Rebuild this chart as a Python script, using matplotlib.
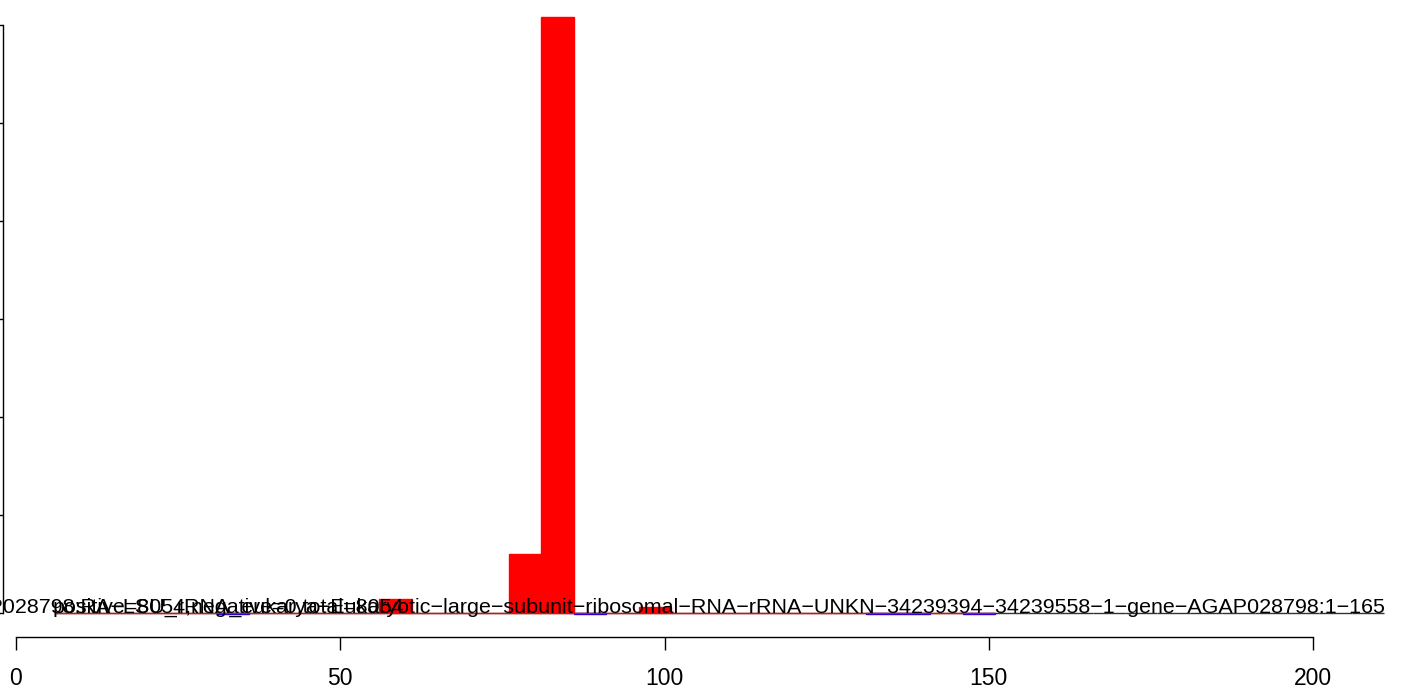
import numpy as np
import matplotlib
matplotlib.use("Agg")
import matplotlib.pyplot as plt

plt.rcParams['font.family'] = ['Liberation Sans', 'DejaVu Sans']

# histogram bins (left edges, width 5)
bin_width = 5
pos_bins = np.arange(6, 151, bin_width)
pos_counts = [0, 0, 0, 0, 0, 0, 0, 0, 0, 0, 140, 0, 0, 0, 600, 6080,
              0, 0, 60, 0, 0, 0, 0, 0, 0, 0, 0, 0, 0]
neg_bins = [31, 86, 131, 136, 146]
neg_counts = [-8, -8, -8, -8, -8]
base_bins = np.arange(6, 211, bin_width)
base_counts = [0] * len(base_bins)

y_ticks = [0, 1000, 2000, 3000, 4000, 5000, 6000]
x_ticks = [0, 50, 100, 150, 200]

title = ("AGAP028798:RA\u2212LSU_rRNA_eukarya\u2212Eukaryotic\u2212large\u2212subunit\u2212"
         "ribosomal\u2212RNA\u2212rRNA\u2212UNKN\u221234239394\u221234239558\u22121\u2212"
         "gene\u2212AGAP028798:1\u2212165")
summary = "positive=8054,negative=0,total=8054"

W, H = 1402, 689
fig = plt.figure(figsize=(W / 100, H / 100), dpi=100)
ax = fig.add_axes([16 / W, 76 / H, 1297 / W, 596 / H])
ax.set_xlim(0, 200)
ax.set_ylim(0, 6082)

ax.bar(base_bins, base_counts, width=bin_width, align='edge', color='#333333',
       edgecolor='#333333', linewidth=1.0, zorder=1, clip_on=False)
ax.bar(neg_bins, neg_counts, width=bin_width, align='edge', color='blue',
       edgecolor='blue', linewidth=1.0, zorder=2, clip_on=False)
ax.bar(pos_bins, pos_counts, width=bin_width, align='edge', color='red',
       edgecolor='red', linewidth=1.0, zorder=3, clip_on=False)

ax.text(100, 0, title, ha='center', va='baseline', fontsize=15.45,
        color='black', zorder=5, clip_on=False)
ax.text(5.7, 0, summary, ha='left', va='baseline', fontsize=15.45,
        color='black', zorder=5, clip_on=False)

for s in ['top', 'right']:
    ax.spines[s].set_visible(False)
ax.spines['left'].set_position(('outward', 9.4))
ax.spines['left'].set_bounds(0, 6000)
ax.spines['bottom'].set_position(('outward', 17.3))
ax.spines['bottom'].set_bounds(0, 200)
for s in ['left', 'bottom']:
    ax.spines[s].set_linewidth(1.0)

ax.set_yticks(y_ticks)
ax.tick_params(axis='y', direction='out', length=9, width=1.0, labelleft=False)
ax.set_xticks(x_ticks)
ax.set_xticklabels([str(t) for t in x_ticks])
ax.tick_params(axis='x', direction='out', length=9.4, width=1.0, pad=12,
               labelsize=16.5)

fig.savefig('out.png', dpi=100)
